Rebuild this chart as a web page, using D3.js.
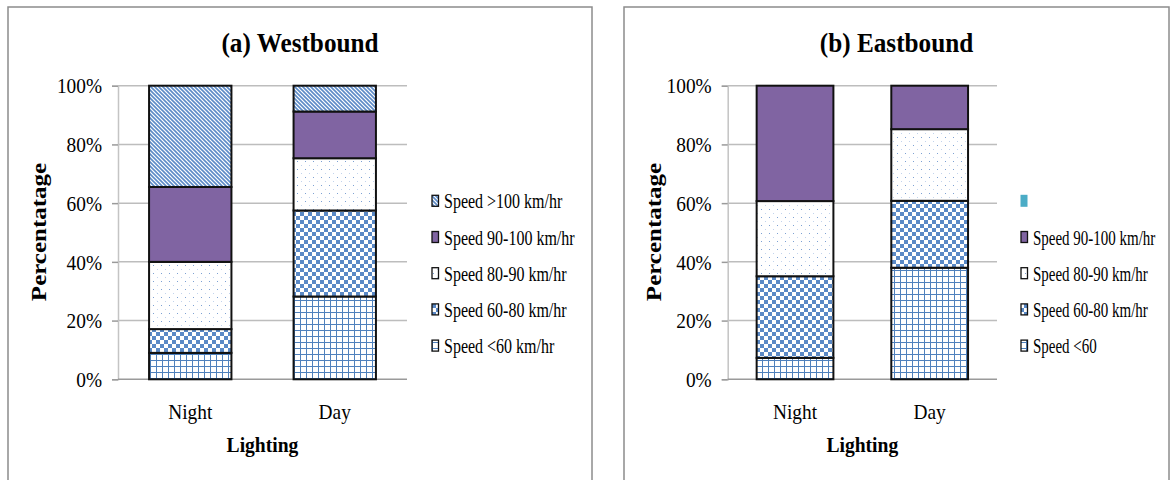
<!DOCTYPE html>
<html>
<head>
<meta charset="utf-8">
<script src="https://cdn.jsdelivr.net/npm/d3@7"></script>
<style>
  html, body { margin: 0; padding: 0; background: #fff; }
  svg { display: block; font-family: "Liberation Serif", "Times New Roman", serif; }
</style>
</head>
<body>
<svg id="chart" width="1171" height="480"></svg>
<script>
// ---- data (percent of vehicles per speed band) ----
const lighting = ["Night", "Day"];
const percentTicks = [0, 20, 40, 60, 80, 100];

// Westbound
const westBands = ["Speed <60 km/hr", "Speed 60-80 km/hr", "Speed 80-90 km/hr", "Speed 90-100 km/hr", "Speed >100 km/hr"];
const westLt60     = [9.0, 28.2];
const west60to80   = [8.1, 29.3];
const west80to90   = [22.9, 17.8];
const west90to100  = [25.5, 15.9];
const westGt100    = [34.5, 8.8];

// Eastbound (no >100 band; its legend slot is left blank)
const eastBands = ["Speed <60", "Speed 60-80 km/hr", "Speed 80-90 km/hr", "Speed 90-100 km/hr"];
const eastLt60     = [7.3, 38.0];
const east60to80   = [27.8, 22.8];
const east80to90   = [25.6, 24.4];
const east90to100  = [39.3, 14.8];

const svg = d3.select("#chart");
const blue = "#4f81bd";
const purple = "#8064a2";

// ---- fill patterns ----
const defs = svg.append("defs");
function pattern(id, w, h) {
  const p = defs.append("pattern").attr("id", id)
    .attr("patternUnits", "userSpaceOnUse").attr("width", w).attr("height", h);
  p.append("rect").attr("width", w).attr("height", h).attr("fill", "#fff");
  return p;
}
// small grid
pattern("fGrid", 6, 6).append("path")
  .attr("d", "M0,0.5H6M0.5,0V6").attr("stroke", blue).attr("stroke-width", 1);
// small checker board
{
  const p = pattern("fCheck", 8, 8);
  p.append("rect").attr("x", 0).attr("y", 0).attr("width", 4).attr("height", 4).attr("fill", "#5a89c6");
  p.append("rect").attr("x", 4).attr("y", 4).attr("width", 4).attr("height", 4).attr("fill", "#5a89c6");
}
// sparse dots
{
  const p = pattern("fDots", 8, 8);
  p.append("rect").attr("x", 1).attr("y", 1).attr("width", 1).attr("height", 1).attr("fill", "#7da1d3");
  p.append("rect").attr("x", 5).attr("y", 5).attr("width", 1).attr("height", 1).attr("fill", "#c2d3ec");
}
// dark downward diagonal
pattern("fDiag", 4, 4).append("path")
  .attr("d", "M-1,-1L5,5M3,-1L5,1M-1,3L1,5")
  .attr("stroke", "#5d8bc7").attr("stroke-width", 1.6);

const fills = {
  "lt60": "url(#fGrid)",
  "60to80": "url(#fCheck)",
  "80to90": "url(#fDots)",
  "90to100": purple,
  "gt100": "url(#fDiag)"
};

// squeeze text horizontally by a factor
function condense(sel, factor) {
  sel.each(function () {
    const w = this.getComputedTextLength();
    d3.select(this).attr("textLength", w * factor).attr("lengthAdjust", "spacingAndGlyphs");
  });
}

function drawPanel(cfg) {
  const g = svg.append("g");

  // panel frame
  g.append("rect")
    .attr("x", cfg.frame[0]).attr("y", 7)
    .attr("width", cfg.frame[1] - cfg.frame[0]).attr("height", 520)
    .attr("fill", "#fff").attr("stroke", "#8c8c8c").attr("stroke-width", 1.5);

  const x = d3.scaleBand().domain(lighting).range(cfg.xRange)
    .paddingInner(0.43).paddingOuter(0.215);
  const y = d3.scaleLinear().domain([0, 100]).range([379.3, 85.7]);

  // gridlines
  g.append("g").selectAll("line").data(percentTicks.filter(d => d > 0)).join("line")
    .attr("x1", cfg.xRange[0]).attr("x2", cfg.xRange[1])
    .attr("y1", d => y(d)).attr("y2", d => y(d))
    .attr("stroke", "#bdbdbd").attr("stroke-width", 1.5);

  // y axis
  const ya = g.append("g").attr("transform", `translate(${cfg.xRange[0]},0)`)
    .call(d3.axisLeft(y).tickValues(percentTicks).tickFormat(d => d + "%")
      .tickSize(6).tickPadding(10));
  ya.select(".domain").attr("stroke", "#c4c4c4").attr("stroke-width", 1.5);
  ya.selectAll(".tick line").attr("stroke", "#9a9a9a").attr("stroke-width", 1.5);
  ya.selectAll(".tick text")
    .attr("font-family", "'Liberation Serif', 'Times New Roman', serif")
    .attr("font-size", 21).attr("fill", "#000").attr("dy", "0.34em");
  condense(ya.selectAll(".tick text"), 0.92);

  // x axis
  const xa = g.append("g").attr("transform", `translate(0,${y(0)})`)
    .call(d3.axisBottom(x).tickSize(0).tickPadding(24));
  xa.select(".domain").attr("d", `M${cfg.xRange[0]},0H${cfg.xRange[1]}`)
    .attr("stroke", "#9a9a9a").attr("stroke-width", 1.5);
  xa.selectAll(".tick text")
    .attr("font-family", "'Liberation Serif', 'Times New Roman', serif")
    .attr("font-size", 22).attr("fill", "#000").attr("dy", "0.71em");
  condense(xa.selectAll(".tick text"), 0.88);

  // stacked bars
  const rows = lighting.map((c, i) => {
    const r = { cat: c };
    cfg.series.forEach(s => { r[s.key] = s.values[i]; });
    return r;
  });
  const stacked = d3.stack().keys(cfg.series.map(s => s.key))(rows);
  g.append("g").selectAll("g").data(stacked).join("g")
    .attr("fill", d => fills[d.key])
    .selectAll("rect").data(d => d).join("rect")
    .attr("x", d => x(d.data.cat))
    .attr("width", x.bandwidth())
    .attr("y", d => y(d[1]))
    .attr("height", d => y(d[0]) - y(d[1]))
    .attr("stroke", "#111").attr("stroke-width", 2);

  // title
  const t = g.append("text")
    .attr("x", (cfg.frame[0] + cfg.frame[1]) / 2).attr("y", 52)
    .attr("text-anchor", "middle").attr("font-weight", "bold").attr("font-size", 28)
    .text(cfg.title);
  condense(t, 0.9);

  // axis titles
  const xl = g.append("text")
    .attr("x", (cfg.xRange[0] + cfg.xRange[1]) / 2).attr("y", 452)
    .attr("text-anchor", "middle").attr("font-weight", "bold").attr("font-size", 22)
    .text("Lighting");
  condense(xl, 0.89);
  g.append("text")
    .attr("transform", `translate(${cfg.yTitleX},232) scale(0.85,1) rotate(-90)`)
    .attr("text-anchor", "middle").attr("font-weight", "bold").attr("font-size", 25)
    .text("Percentatage");

  // legend (top entry first)
  const lg = g.append("g");
  cfg.legend.forEach((e, i) => {
    const cy = 200.8 + i * 36.2;
    if (e.blank) {
      lg.append("rect").attr("x", cfg.legendX).attr("y", cy - 6)
        .attr("width", 7).attr("height", 12).attr("fill", "#4bacc6");
      return;
    }
    lg.append("rect").attr("x", cfg.legendX + 0.5).attr("y", cy - 5.5)
      .attr("width", 6.5).attr("height", 11)
      .attr("fill", fills[e.key]).attr("stroke", "#111").attr("stroke-width", 1.3);
    lg.append("text")
      .attr("transform", `translate(${cfg.legendX + 12.5},${cy + 7.5}) scale(${cfg.legendSqueeze},1)`)
      .attr("font-size", 20).text(e.label);
  });
}

drawPanel({
  title: "(a) Westbound",
  frame: [8, 592],
  xRange: [118, 407],
  yTitleX: 46,
  legendX: 431.5,
  legendSqueeze: 0.8,
  series: [
    { key: "lt60", values: westLt60 },
    { key: "60to80", values: west60to80 },
    { key: "80to90", values: west80to90 },
    { key: "90to100", values: west90to100 },
    { key: "gt100", values: westGt100 }
  ],
  legend: [
    { key: "gt100", label: westBands[4] },
    { key: "90to100", label: westBands[3] },
    { key: "80to90", label: westBands[2] },
    { key: "60to80", label: westBands[1] },
    { key: "lt60", label: westBands[0] }
  ]
});

drawPanel({
  title: "(b) Eastbound",
  frame: [624, 1169],
  xRange: [727.7, 997],
  yTitleX: 661,
  legendX: 1020.5,
  legendSqueeze: 0.75,
  series: [
    { key: "lt60", values: eastLt60 },
    { key: "60to80", values: east60to80 },
    { key: "80to90", values: east80to90 },
    { key: "90to100", values: east90to100 }
  ],
  legend: [
    { blank: true },
    { key: "90to100", label: eastBands[3] },
    { key: "80to90", label: eastBands[2] },
    { key: "60to80", label: eastBands[1] },
    { key: "lt60", label: eastBands[0] }
  ]
});
</script>
</body>
</html>
